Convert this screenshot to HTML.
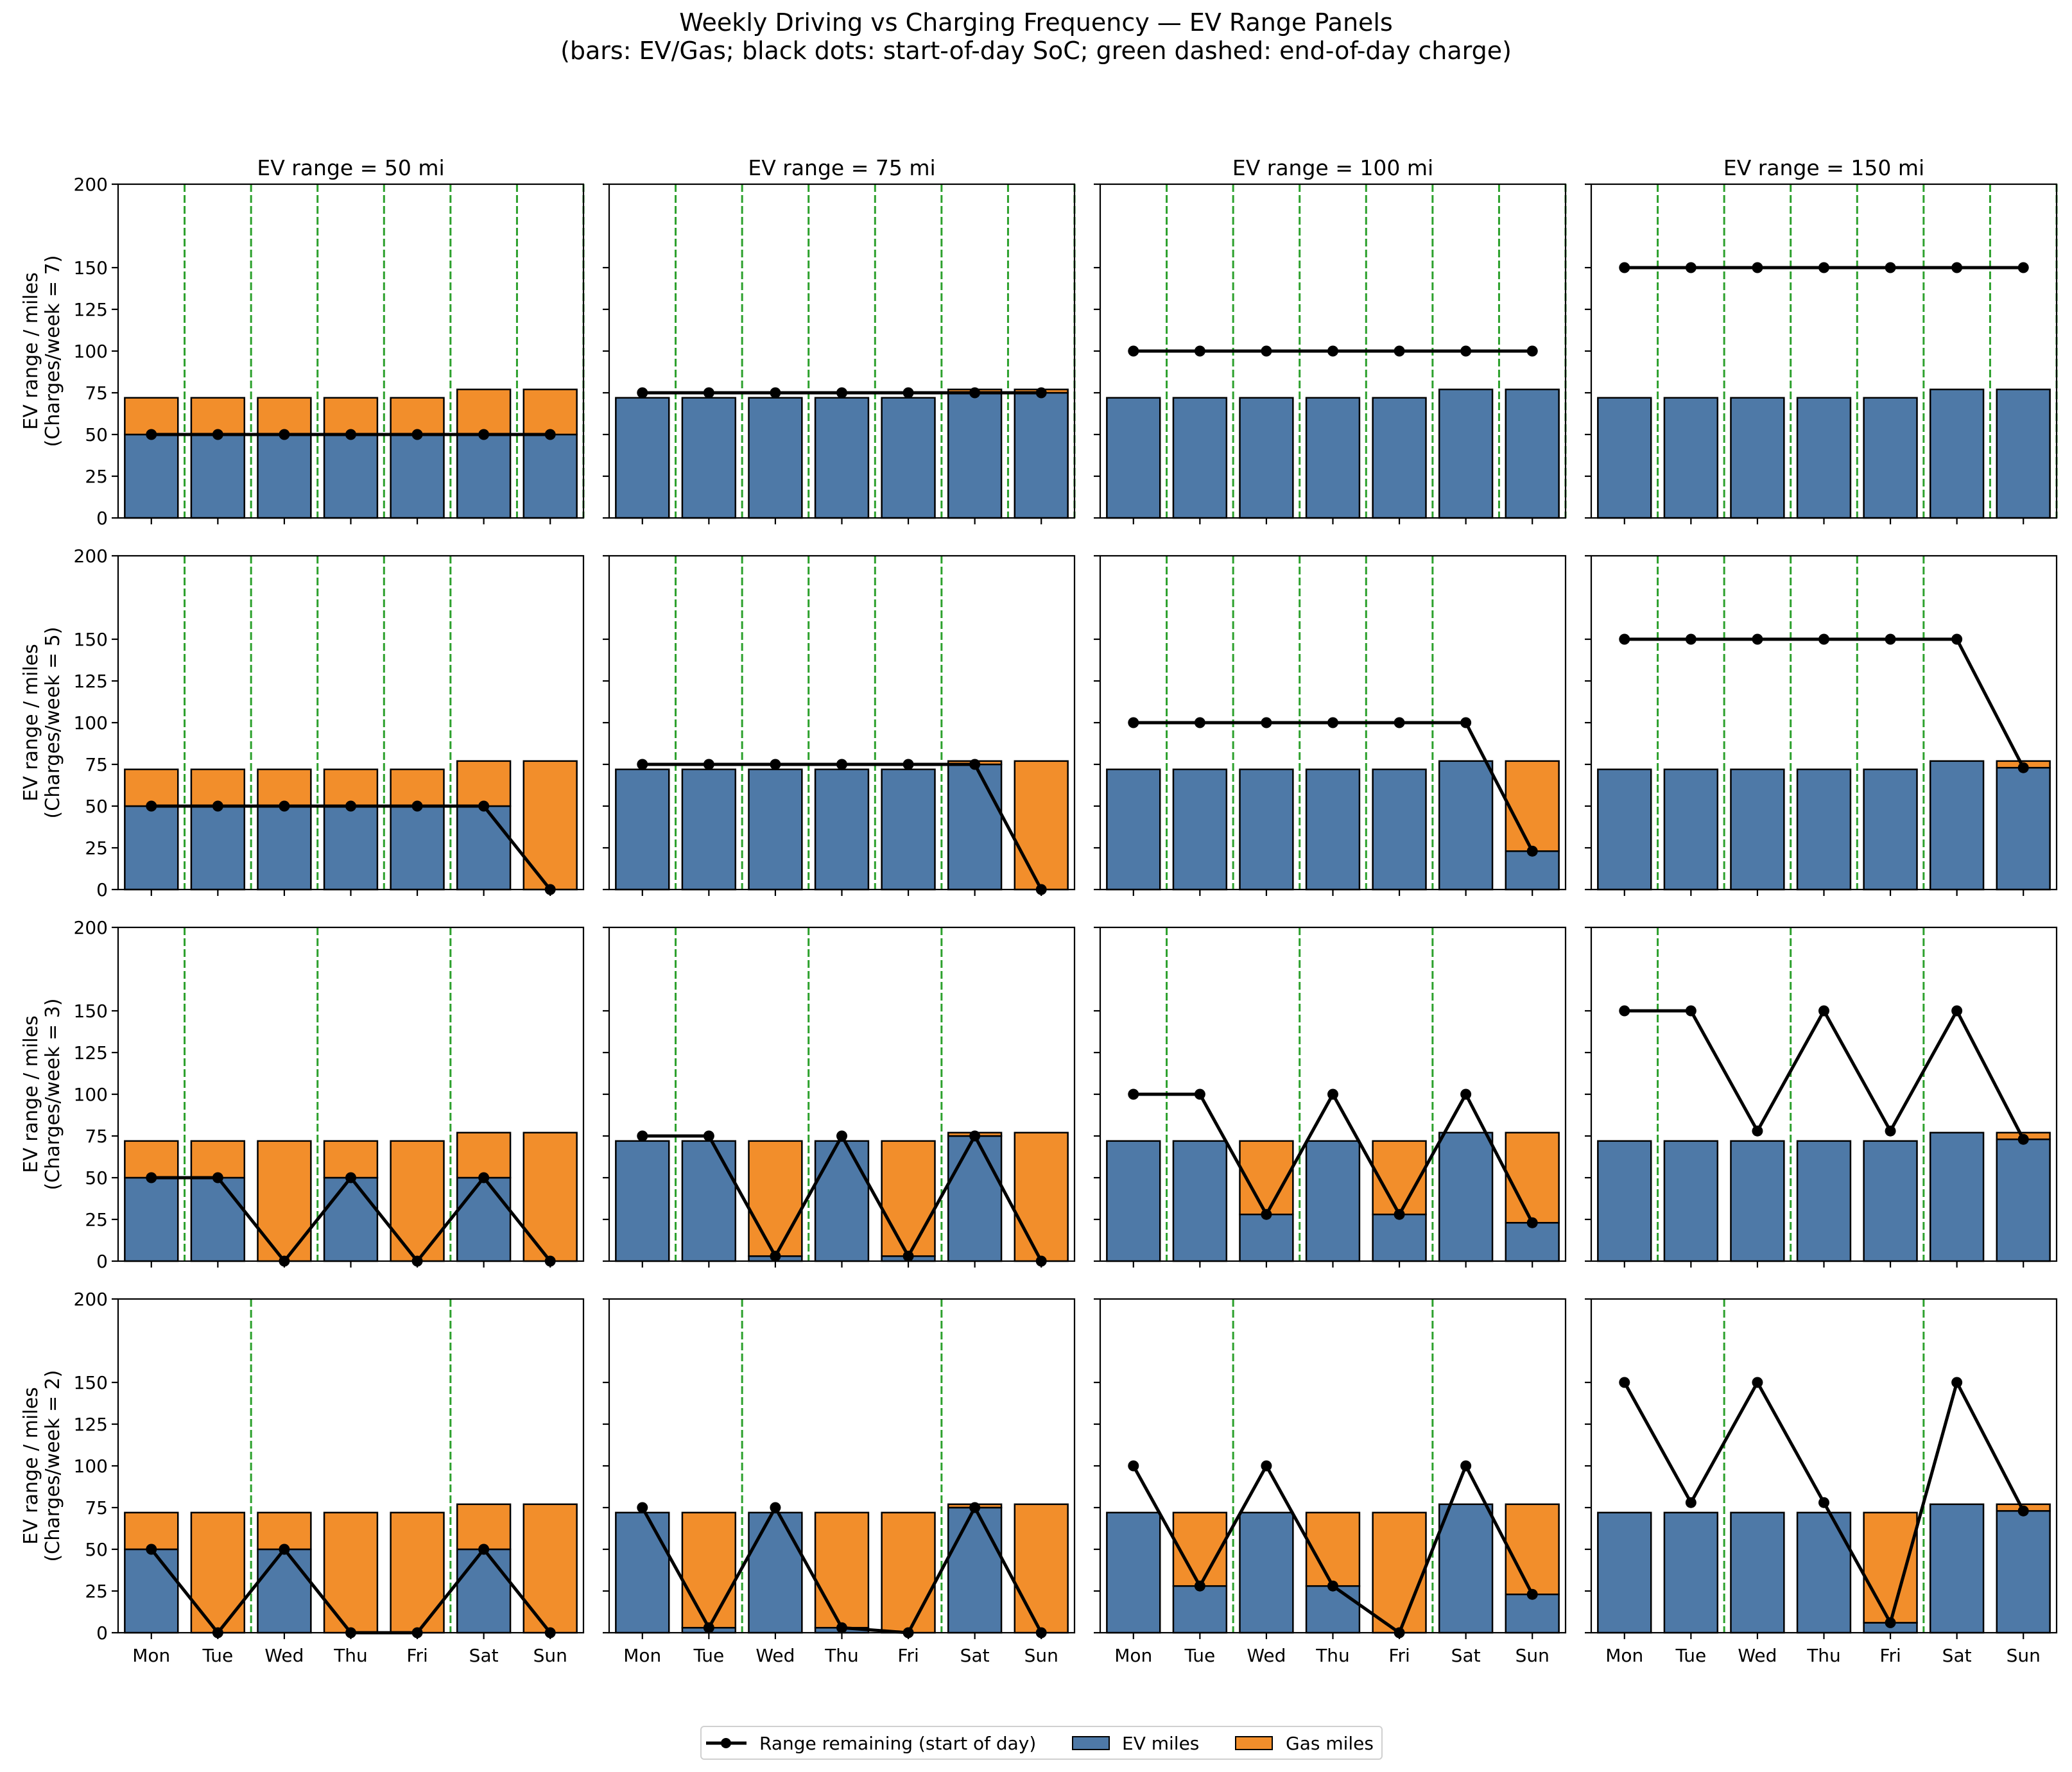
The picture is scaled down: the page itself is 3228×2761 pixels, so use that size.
<!DOCTYPE html>
<html><head><meta charset="utf-8"><style>
html,body{margin:0;padding:0;background:#fff;}
svg{display:block;font-family:"DejaVu Sans","Liberation Sans",sans-serif;}
</style></head><body>
<svg id="chart" width="3228" height="2761" viewBox="0 0 3228 2761" xmlns="http://www.w3.org/2000/svg">
<rect width="3228" height="2761" fill="#fff"/>
<text x="1614" y="48" font-size="38" text-anchor="middle" fill="#000">Weekly Driving vs Charging Frequency — EV Range Panels</text>
<text x="1614" y="92" font-size="38" text-anchor="middle" fill="#000">(bars: EV/Gas; black dots: start-of-day SoC; green dashed: end-of-day charge)</text>
<g id="panels"></g>
<g>
<rect x="1092" y="2690" width="1061" height="51" rx="5" fill="#fff" stroke="#d0d0d0" stroke-width="2"/>
<line x1="1100" y1="2716" x2="1163" y2="2716" stroke="#000" stroke-width="5"/>
<circle cx="1131" cy="2716" r="8" fill="#000"/>
<text x="1183" y="2726" font-size="28">Range remaining (start of day)</text>
<rect x="1671" y="2706" width="57" height="20" fill="#4e79a7" stroke="#000" stroke-width="2"/>
<text x="1748" y="2726" font-size="28">EV miles</text>
<rect x="1925" y="2706" width="57" height="20" fill="#f28e2b" stroke="#000" stroke-width="2"/>
<text x="2003" y="2726" font-size="28">Gas miles</text>
</g>
</svg>
<script>
const days = ["Mon","Tue","Wed","Thu","Fri","Sat","Sun"];
const dailyMiles = [72,72,72,72,72,77,77];
const evRanges = [50,75,100,150];
const chargesPerWeek = [7,5,3,2];
const chargeDays7 = [0,1,2,3,4,5,6];
const chargeDays5 = [0,1,2,3,4];
const chargeDays3 = [0,2,4];
const chargeDays2 = [1,4];
const soc7_50 = [50,50,50,50,50,50,50];
const soc7_75 = [75,75,75,75,75,75,75];
const soc7_100 = [100,100,100,100,100,100,100];
const soc7_150 = [150,150,150,150,150,150,150];
const soc5_50 = [50,50,50,50,50,50,0];
const soc5_75 = [75,75,75,75,75,75,0];
const soc5_100 = [100,100,100,100,100,100,23];
const soc5_150 = [150,150,150,150,150,150,73];
const soc3_50 = [50,50,0,50,0,50,0];
const soc3_75 = [75,75,3,75,3,75,0];
const soc3_100 = [100,100,28,100,28,100,23];
const soc3_150 = [150,150,78,150,78,150,73];
const soc2_50 = [50,0,50,0,0,50,0];
const soc2_75 = [75,3,75,3,0,75,0];
const soc2_100 = [100,28,100,28,0,100,23];
const soc2_150 = [150,78,150,78,6,150,73];
const yTicks = [0,25,50,75,100,125,150,200];

const socGrid = [[soc7_50,soc7_75,soc7_100,soc7_150],[soc5_50,soc5_75,soc5_100,soc5_150],[soc3_50,soc3_75,soc3_100,soc3_150],[soc2_50,soc2_75,soc2_100,soc2_150]];
const chargeGrid = [chargeDays7,chargeDays5,chargeDays3,chargeDays2];

const NS="http://www.w3.org/2000/svg";
const root=document.getElementById('panels');
function el(tag,attrs,parent){const e=document.createElementNS(NS,tag);for(const k in attrs)e.setAttribute(k,attrs[k]);(parent||root).appendChild(e);return e;}
const colX=[184,949,1714,2479], rowY=[287,866,1445,2024], W=725, H=520;
for(let r=0;r<4;r++){for(let c=0;c<4;c++){
  const x0=colX[c], y0=rowY[r];
  const xs=v=>x0+(v+0.5)/7*W;
  const ys=v=>y0+H-v/200*H;
  const g=el('g',{});
  
  
  const soc=socGrid[r][c];
  const bw=0.8/7*W;
  for(let i=0;i<7;i++){
    const ev=Math.min(soc[i],dailyMiles[i]), gas=dailyMiles[i]-ev;
    const b1=el('rect',{x:xs(i)-bw/2,y:ys(ev),width:bw,height:ys(0)-ys(ev),fill:'#4e79a7',stroke:'#000','stroke-width':2.5},g);
    
    
    if(gas>0){
      const b2=el('rect',{x:xs(i)-bw/2,y:ys(ev+gas),width:bw,height:ys(ev)-ys(ev+gas),fill:'#f28e2b',stroke:'#000','stroke-width':2.5},g);
      
      
    }
  }
  for(const d of chargeGrid[r]){
    const l=el('line',{x1:xs(d+0.5),x2:xs(d+0.5),y1:y0,y2:y0+H,stroke:'#2ca02c','stroke-width':3,'stroke-dasharray':'12,5'},g);
    
    
  }
  const pts=soc.map((v,i)=>xs(i)+','+ys(v)).join(' ');
  const pl=el('polyline',{points:pts,fill:'none',stroke:'#000','stroke-width':5,'stroke-linejoin':'round'},g);
  
  
  soc.forEach((v,i)=>{const m=el('circle',{cx:xs(i),cy:ys(v),r:8.5,fill:'#000'},g);
    
    });
  el('rect',{x:x0,y:y0,width:W,height:H,fill:'none',stroke:'#000','stroke-width':2.2},g);
  for(const t of yTicks){
    el('line',{x1:x0-10,x2:x0,y1:ys(t),y2:ys(t),stroke:'#000','stroke-width':2.2},g);
    if(c===0){const tx=el('text',{x:x0-16,y:ys(t)+10,'font-size':28,'text-anchor':'end'},g);tx.textContent=t;
      
      }
  }
  for(let i=0;i<7;i++){
    el('line',{x1:xs(i),x2:xs(i),y1:y0+H,y2:y0+H+10,stroke:'#000','stroke-width':2.2},g);
    if(r===3){const tx=el('text',{x:xs(i),y:y0+H+45,'font-size':28,'text-anchor':'middle'},g);tx.textContent=days[i];
      
      }
  }
  if(r===0){const tt=el('text',{x:x0+W/2,y:y0-14,'font-size':33,'text-anchor':'middle'},g);tt.textContent='EV range = '+evRanges[c]+' mi';
    
    }
  if(c===0){const cy=y0+H/2;
    const yl=el('text',{transform:'translate(58,'+cy+') rotate(-90)','font-size':30,'text-anchor':'middle'},g);
    
    
    const t1=el('tspan',{x:0,y:0},yl);t1.textContent='EV range / miles';
    const t2=el('tspan',{x:0,y:34},yl);t2.textContent='(Charges/week = '+chargesPerWeek[r]+')';}
}}
</script>
</body></html>
